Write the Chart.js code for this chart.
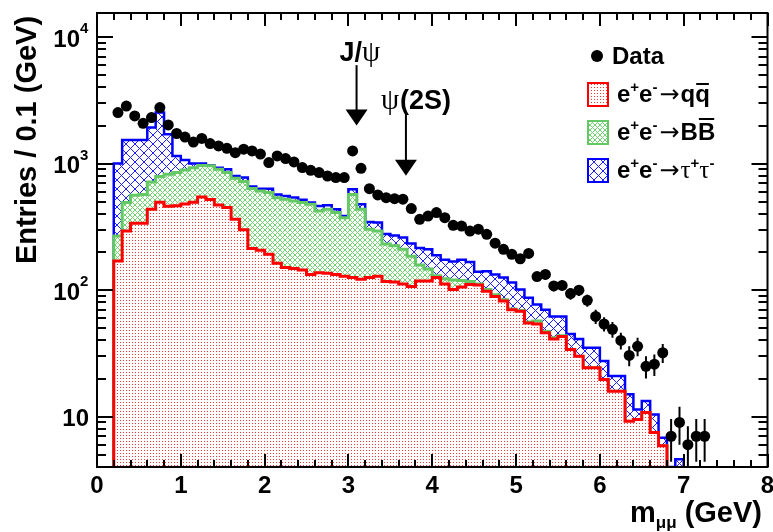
<!DOCTYPE html>
<html>
<head>
<meta charset="utf-8">
<script src="https://cdn.jsdelivr.net/npm/chart.js@4.4.1/dist/chart.umd.min.js"></script>
<style>
    html, body { margin: 0; padding: 0; background: #fff; }
    #wrap { width: 773px; height: 532px; }
</style>
</head>
<body>
<div id="wrap"><canvas id="c" width="773" height="532"></canvas></div>
<script>
// histogram binning (GeV)
const binStart = 0.2;
const binWidth = 0.1;

// stack levels, one value per 0.1 GeV bin from 0.2 GeV
// e+e- -> qqbar
const qqTop = [
    170, 293, 337, 337, 436, 495, 460, 465, 480, 495,
    545, 520, 470, 449, 363, 300, 213, 207, 192, 163,
    151, 148, 144, 133, 137, 136, 133, 129, 126, 122,
    126, 129, 117, 116, 112, 107, 118, 118, 126, 112,
    101, 106, 111, 110, 98, 89, 82, 70, 68, 55,
    54, 46, 41, 43, 34, 30, 24.4, 24.4, 19.7, 15.9,
    15.9, 9.2, 9.5, 10.8, 7.5, 5.9
];
// qqbar + BBbar
const bbTop = [
    268, 492, 561, 571, 715, 790, 825, 850, 890, 929,
    965, 960, 902, 850, 765, 722, 635, 607, 590, 538,
    523, 506, 492, 477, 422, 436, 410, 374, 571, 436,
    303, 293, 231, 224, 210, 185, 158, 147, 130, 123,
    120, 119, 117, 112, 101, 92, 84, 71, 69, 56,
    57, 47, 42, 43.5, 34, 30, 24.4, 24.4, 19.7, 15.9,
    15.9, 9.2, 9.5, 10.8, 7.5, 5.9
];
// qqbar + BBbar + tau tau
const tauTop = [
    1000, 1538, 1538, 1538, 1928, 2530, 1706, 1148, 1067, 1004,
    1000, 970, 929, 902, 798, 776, 658, 634, 634, 571,
    555, 540, 517, 492, 462, 468, 436, 385, 627, 477,
    346, 342, 278, 270, 261, 234, 215, 210, 189, 174,
    168, 174, 167, 140, 141, 133, 126, 115, 101, 87,
    77, 70, 62, 62, 45, 41, 35, 35, 27.5, 21,
    21, 15, 11.4, 13.3, 10.4, 6.8, 0, 4.6
];

// data points
const dataMass = [
    0.25, 0.35, 0.45, 0.55, 0.65, 0.75, 0.85, 0.95, 1.05, 1.15,
    1.25, 1.35, 1.45, 1.55, 1.65, 1.75, 1.85, 1.95, 2.05, 2.15,
    2.25, 2.35, 2.45, 2.55, 2.65, 2.75, 2.85, 2.95, 3.05, 3.15,
    3.25, 3.35, 3.45, 3.55, 3.65, 3.75, 3.85, 3.95, 4.05, 4.15,
    4.25, 4.35, 4.45, 4.55, 4.65, 4.75, 4.85, 4.95, 5.05, 5.15,
    5.25, 5.35, 5.45, 5.55, 5.65, 5.75, 5.85, 5.95, 6.05, 6.15,
    6.25, 6.35, 6.45, 6.55, 6.65, 6.75, 6.85, 6.95, 7.05, 7.15,
    7.25
];
const dataCount = [
    2530, 2850, 2380, 2080, 2310, 2770, 2020, 1730, 1620, 1480,
    1580, 1440, 1380, 1320, 1220, 1300, 1260, 1190, 1020, 1150,
    1096, 1030, 930, 885, 849, 798, 776, 776, 1260, 918,
    634, 565, 538, 528, 523, 441, 363, 385, 410, 374,
    325, 321, 293, 303, 276, 235, 210, 192, 177, 195,
    128, 133, 108, 109, 94, 100, 83, 62, 54, 49,
    40, 30.5, 36, 25, 26, 32, 7, 9, 6, 7,
    7
];
const dataErr = [
    50, 53, 49, 46, 48, 53, 45, 42, 40, 38,
    40, 38, 37, 36, 35, 36, 35, 34, 32, 34,
    33, 32, 30, 30, 29, 28, 28, 28, 35, 30,
    25, 24, 23, 23, 23, 21, 19, 20, 20, 19,
    18, 18, 17, 17, 17, 15, 14, 14, 13, 14,
    11, 12, 10, 10, 10, 10, 9, 8, 7, 7,
    6, 5.5, 6, 5, 5, 5.5, 2.6, 3, 2.4, 2.6,
    2.6
];

// axes
const xMin = 0, xMax = 8;
const xMajorTicks = [0, 1, 2, 3, 4, 5, 6, 7, 8];
const yMin = 4.0, yMax = 15500;
const yDecades = [1, 2, 3, 4];

// annotation arrows: mass, arrow top and tip (entries)
const jpsiMass = 3.097, jpsiArrow = [6000, 2000];
const psi2sMass = 3.686, psi2sArrow = [2500, 800];

const BOLD = '"Liberation Sans", Arial, Helvetica, sans-serif';
const SERIF = '"Liberation Serif", "DejaVu Serif", serif';

const canvas = document.getElementById('c');
const ctx = canvas.getContext('2d');

function makePattern(size, color, draw) {
    const c = document.createElement('canvas');
    c.width = size;
    c.height = size;
    const g = c.getContext('2d');
    g.fillStyle = '#fff';
    g.fillRect(0, 0, size, size);
    g.fillStyle = color;
    draw(g, size);
    return ctx.createPattern(c, 'repeat');
}

function crossHatch(g, size) {
    for (let i = 0; i < size; i++) {
        g.fillRect(i, i, 1, 1);
        g.fillRect(size - 1 - i, i, 1, 1);
    }
}

const redFill = makePattern(3, 'rgba(255,0,0,0.8)', g => g.fillRect(0, 0, 1, 1));
const greenFill = makePattern(5, 'rgb(115,210,115)', crossHatch);
const blueFill = makePattern(9, 'rgb(30,30,255)', crossHatch);

// step outline of a histogram, closed down to the axis at both ends
function stepPoints(values) {
    const pts = [{ x: binStart, y: yMin }];
    values.forEach((v, i) => {
        pts.push({ x: binStart + i * binWidth, y: Math.max(v, yMin) });
    });
    pts.push({ x: binStart + values.length * binWidth, y: yMin });
    return pts;
}

function richText(x, y, parts) {
    parts.forEach(p => {
        ctx.font = p.font;
        const w = ctx.measureText(p.t).width;
        ctx.fillText(p.t, x, y + (p.dy || 0));
        if (p.bar) ctx.fillRect(x + 1, y - p.bar, w - 2, 2);
        x += w + (p.gap || 0);
    });
    return x;
}

function eePrefix(x, y) {
    return richText(x, y, [
        { t: 'e', font: 'bold 24px ' + BOLD },
        { t: '+', font: 'bold 15px ' + BOLD, dy: -10 },
        { t: 'e', font: 'bold 24px ' + BOLD },
        { t: '-', font: 'bold 15px ' + BOLD, dy: -10, gap: 2 },
        { t: '\u2192', font: '24px "DejaVu Sans", sans-serif', gap: 1 }
    ]);
}

const decor = {
    id: 'decor',
    afterDatasetsDraw(chart) {
        const { chartArea: a, scales: { x, y } } = chart;
        ctx.save();
        ctx.beginPath();
        ctx.rect(a.left, a.top, a.right - a.left, a.bottom - a.top);
        ctx.clip();
        ctx.strokeStyle = '#000';
        ctx.lineWidth = 2;
        dataMass.forEach((m, i) => {
            const px = x.getPixelForValue(m);
            ctx.beginPath();
            ctx.moveTo(px, y.getPixelForValue(dataCount[i] + dataErr[i]));
            ctx.lineTo(px, y.getPixelForValue(Math.max(dataCount[i] - dataErr[i], yMin)));
            ctx.stroke();
        });
        ctx.restore();
    },
    afterDraw(chart) {
        const { chartArea: a, scales: { x, y } } = chart;
        ctx.save();
        ctx.strokeStyle = '#000';
        ctx.fillStyle = '#000';
        ctx.lineWidth = 2;
        ctx.strokeRect(a.left, a.top, a.right - a.left, a.bottom - a.top);

        // x ticks, bottom and top
        ctx.beginPath();
        for (let k = 0; k <= (xMax - xMin) * 5; k++) {
            const v = xMin + k * 0.2;
            const px = Math.round(x.getPixelForValue(v));
            const len = k % 5 === 0 ? 13 : 7;
            ctx.moveTo(px, a.bottom);
            ctx.lineTo(px, a.bottom - len);
            ctx.moveTo(px, a.top);
            ctx.lineTo(px, a.top + len);
        }
        // y ticks, left and right
        for (let d = 0; d <= 4; d++) {
            for (let m = 1; m <= 9; m++) {
                const v = m * Math.pow(10, d);
                if (v < yMin || v > yMax) continue;
                const py = Math.round(y.getPixelForValue(v));
                const len = m === 1 ? 16 : 9;
                ctx.moveTo(a.left, py);
                ctx.lineTo(a.left + len, py);
                ctx.moveTo(a.right, py);
                ctx.lineTo(a.right - len, py);
            }
        }
        ctx.stroke();

        // x tick labels
        ctx.textAlign = 'center';
        ctx.textBaseline = 'alphabetic';
        ctx.font = 'bold 24px ' + BOLD;
        xMajorTicks.forEach(v => ctx.fillText(String(v), x.getPixelForValue(v), 493));

        // y tick labels
        ctx.textBaseline = 'middle';
        yDecades.forEach(d => {
            const py = y.getPixelForValue(Math.pow(10, d));
            ctx.textAlign = 'right';
            ctx.font = 'bold 24px ' + BOLD;
            if (d === 1) {
                ctx.fillText('10', 89, py + 3);
            } else {
                ctx.fillText('10', 80, py + 3);
                ctx.textAlign = 'left';
                ctx.font = 'bold 15px ' + BOLD;
                ctx.fillText(String(d), 80, py - 8);
            }
        });

        // axis titles
        ctx.save();
        ctx.translate(28, 140);
        ctx.rotate(-Math.PI / 2);
        ctx.textAlign = 'center';
        ctx.textBaseline = 'middle';
        ctx.font = 'bold 29px ' + BOLD;
        ctx.fillText('Entries / 0.1 (GeV)', 0, 0);
        ctx.restore();

        ctx.textAlign = 'left';
        ctx.textBaseline = 'alphabetic';
        richText(630, 522, [
            { t: 'm', font: 'bold 29px ' + BOLD },
            { t: '\u03bc\u03bc', font: 'bold 17px ' + BOLD, dy: 6 },
            { t: ' (GeV)', font: 'bold 29px ' + BOLD }
        ]);

        // legend
        ctx.beginPath();
        ctx.arc(597, 56, 6, 0, Math.PI * 2);
        ctx.fill();
        ctx.font = 'bold 24px ' + BOLD;
        ctx.fillText('Data', 612, 64);

        const boxes = [
            { top: 83, fill: redFill, line: '#ff0000' },
            { top: 121, fill: greenFill, line: 'rgb(100,200,100)' },
            { top: 159, fill: blueFill, line: '#0000ff' }
        ];
        boxes.forEach(b => {
            ctx.fillStyle = b.fill;
            ctx.fillRect(588, b.top, 20, 23);
            ctx.strokeStyle = b.line;
            ctx.lineWidth = 2;
            ctx.strokeRect(588, b.top, 20, 23);
        });
        ctx.fillStyle = '#000';
        let tx = eePrefix(617, 102);
        richText(tx, 102, [
            { t: 'q', font: 'bold 24px ' + BOLD },
            { t: 'q', font: 'bold 24px ' + BOLD, bar: 19 }
        ]);
        tx = eePrefix(617, 140);
        richText(tx, 140, [
            { t: 'B', font: 'bold 24px ' + BOLD },
            { t: 'B', font: 'bold 24px ' + BOLD, bar: 22 }
        ]);
        tx = eePrefix(617, 178);
        richText(tx, 178, [
            { t: '\u03c4', font: '25px ' + SERIF },
            { t: '+', font: 'bold 15px ' + BOLD, dy: -10 },
            { t: '\u03c4', font: '25px ' + SERIF },
            { t: '-', font: 'bold 15px ' + BOLD, dy: -10 }
        ]);

        // resonance arrows
        [[jpsiMass, jpsiArrow], [psi2sMass, psi2sArrow]].forEach(([m, arr]) => {
            const px = x.getPixelForValue(m);
            const top = y.getPixelForValue(arr[0]);
            const tip = y.getPixelForValue(arr[1]);
            ctx.strokeStyle = '#000';
            ctx.lineWidth = 2;
            ctx.beginPath();
            ctx.moveTo(px, top);
            ctx.lineTo(px, tip - 15);
            ctx.stroke();
            ctx.beginPath();
            ctx.moveTo(px - 11, tip - 16);
            ctx.lineTo(px + 11, tip - 16);
            ctx.lineTo(px, tip);
            ctx.closePath();
            ctx.fill();
        });
        const jx = x.getPixelForValue(jpsiMass);
        const jTop = y.getPixelForValue(jpsiArrow[0]);
        richText(jx - 17, jTop - 4, [
            { t: 'J/', font: 'bold 27px ' + BOLD },
            { t: '\u03c8', font: '29px ' + SERIF }
        ]);
        const px2 = x.getPixelForValue(psi2sMass);
        const pTop = y.getPixelForValue(psi2sArrow[0]);
        richText(px2 - 25, pTop - 4, [
            { t: '\u03c8', font: '29px ' + SERIF, gap: 1 },
            { t: '(2S)', font: 'bold 27px ' + BOLD }
        ]);
        ctx.restore();
    }
};

new Chart(ctx, {
    type: 'line',
    data: {
        datasets: [
            {
                label: 'Data',
                data: dataMass.map((m, i) => ({ x: m, y: dataCount[i] })),
                showLine: false,
                pointRadius: 5.5,
                pointBackgroundColor: '#000',
                pointBorderWidth: 0,
                order: 0
            },
            {
                label: 'e+e- -> qq',
                data: stepPoints(qqTop),
                stepped: true,
                fill: 'start',
                backgroundColor: redFill,
                borderColor: '#ff0000',
                borderWidth: 3,
                pointRadius: 0,
                order: 1
            },
            {
                label: 'e+e- -> BB',
                data: stepPoints(bbTop),
                stepped: true,
                fill: 'start',
                backgroundColor: greenFill,
                borderColor: 'rgb(100,200,100)',
                borderWidth: 3,
                pointRadius: 0,
                order: 2
            },
            {
                label: 'e+e- -> tau tau',
                data: stepPoints(tauTop),
                stepped: true,
                fill: 'start',
                backgroundColor: blueFill,
                borderColor: '#0000ff',
                borderWidth: 2.5,
                pointRadius: 0,
                order: 3
            }
        ]
    },
    options: {
        responsive: false,
        animation: false,
        devicePixelRatio: 1,
        layout: { padding: { left: 97, right: 4, top: 13, bottom: 65 } },
        elements: { line: { tension: 0, borderJoinStyle: 'miter' } },
        scales: {
            x: { type: 'linear', min: xMin, max: xMax, display: false },
            y: { type: 'logarithmic', min: yMin, max: yMax, display: false }
        },
        plugins: {
            legend: { display: false },
            tooltip: { enabled: false }
        }
    },
    plugins: [decor]
});
</script>
</body>
</html>
